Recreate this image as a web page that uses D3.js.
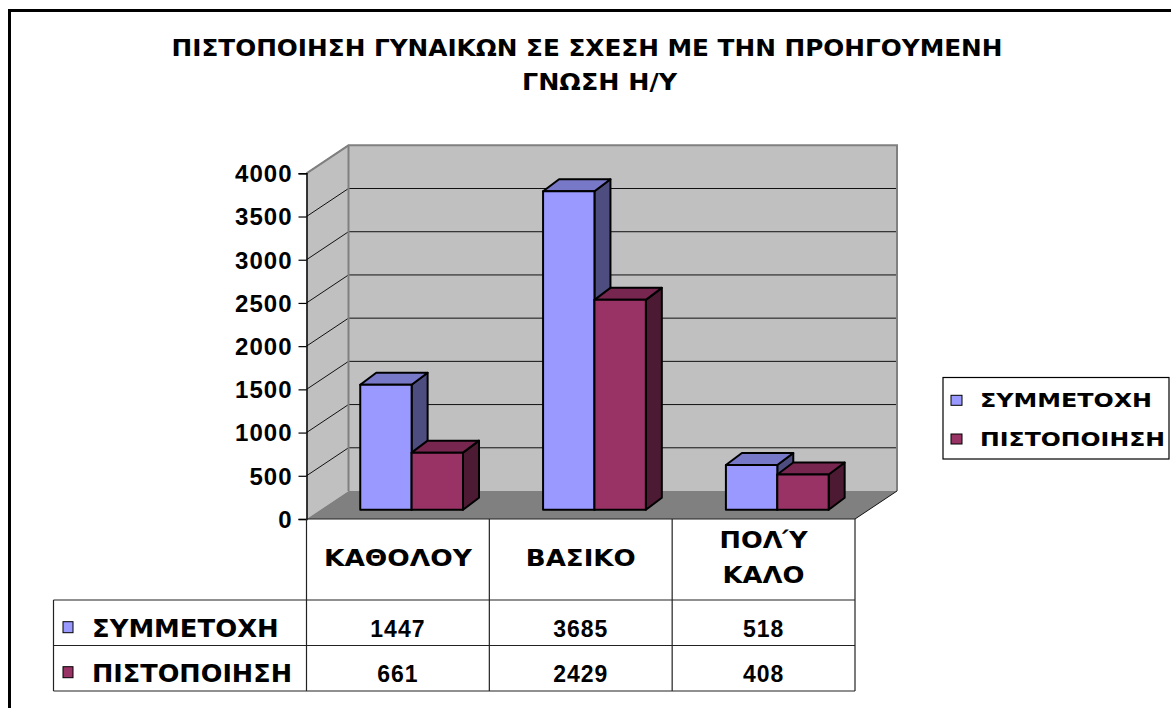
<!DOCTYPE html>
<html><head><meta charset="utf-8">
<script src="https://cdn.jsdelivr.net/npm/d3@7"></script>
<style>
html,body{margin:0;padding:0;background:#fff;}
svg{display:block;font-family:"Liberation Sans",Arial,sans-serif;font-weight:bold;}
.gr{font-family:"DejaVu Sans",sans-serif;font-weight:bold;}
</style></head>
<body>
<svg id="chart" width="1171" height="708"></svg>
<script>
const titleLines = ["ΠΙΣΤΟΠΟΙΗΣΗ ΓΥΝΑΙΚΩΝ ΣΕ ΣΧΕΣΗ ΜΕ ΤΗΝ ΠΡΟΗΓΟΥΜΕΝΗ", "ΓΝΩΣΗ Η/Υ"];
const categories = ["ΚΑΘΟΛΟΥ", "ΒΑΣΙΚΟ", "ΠΟΛΎ ΚΑΛΟ"];
const seriesNames = ["ΣΥΜΜΕΤΟΧΗ", "ΠΙΣΤΟΠΟΙΗΣΗ"];
const participation = [1447, 3685, 518];
const certification = [661, 2429, 408];
const yTicks = [0, 500, 1000, 1500, 2000, 2500, 3000, 3500, 4000];
const seriesColors = ["#9999FF", "#993366"];

const seriesValues = [participation, certification];

const svg = d3.select("#chart");

// outer chart border
svg.append("rect").attr("x", 9.5).attr("y", 10.5).attr("width", 1300).attr("height", 900)
  .attr("fill", "none").attr("stroke", "#000").attr("stroke-width", 3);

// title
const titleX = [587, 599.5], titleY = [56, 90], titleW = [831, 155];
titleLines.forEach((t, i) => {
  svg.append("text").attr("class", "gr").attr("x", titleX[i]).attr("y", titleY[i]).attr("text-anchor", "middle")
    .attr("font-size", 23).attr("textLength", titleW[i]).attr("lengthAdjust", "spacingAndGlyphs").text(t);
});

// scales
const y = d3.scaleLinear().domain([0, 4000]).range([519, 173.3]);
const x0 = d3.scaleBand().domain(categories).range([306.5, 855]);
const bw = x0.bandwidth();
const x1 = d3.scaleBand().domain(seriesNames).range([bw * 0.219, bw * 0.781]);

const DX = 42, DY = 28;          // wall depth
const BX = 13.7, BY = 9.2;       // bar front plane offset
const bDX = 16, bDY = 12;        // bar depth

const left = x0.range()[0], right = x0.range()[1];
const yMax = y(4000), y0 = y(0);

// side wall
svg.append("path")
  .attr("d", `M${left},${yMax}L${left + DX},${yMax - DY}L${left + DX},${y0 - DY}L${left},${y0}Z`)
  .attr("fill", "#c0c0c0");
// back wall
svg.append("rect").attr("x", left + DX).attr("y", yMax - DY).attr("width", right - left).attr("height", y0 - yMax)
  .attr("fill", "#c0c0c0");

// gridlines
yTicks.filter(v => v > 0 && v < 4000).forEach(v => {
  svg.append("line").attr("x1", left + DX).attr("x2", right + DX).attr("y1", y(v) - DY).attr("y2", y(v) - DY)
    .attr("stroke", "#111").attr("stroke-width", 1);
});
yTicks.filter(v => v > 0).forEach(v => {
  svg.append("line").attr("x1", left).attr("x2", left + DX).attr("y1", y(v)).attr("y2", y(v) - DY)
    .attr("stroke", "#111").attr("stroke-width", 1);
});

// wall borders
svg.append("path")
  .attr("d", `M${left},${yMax}L${left + DX},${yMax - DY}L${right + DX},${yMax - DY}L${right + DX},${y0 - DY}`)
  .attr("fill", "none").attr("stroke", "#808080").attr("stroke-width", 2);
svg.append("line").attr("x1", left + DX).attr("x2", left + DX).attr("y1", yMax - DY).attr("y2", y0 - DY)
  .attr("stroke", "#808080").attr("stroke-width", 2);

// floor
svg.append("path")
  .attr("d", `M${left},${y0}L${right},${y0}L${right + DX},${y0 - DY}L${left + DX},${y0 - DY}Z`)
  .attr("fill", "#808080");
svg.append("line").attr("x1", right).attr("x2", right + DX).attr("y1", y0).attr("y2", y0 - DY)
  .attr("stroke", "#111").attr("stroke-width", 1);

// y axis
const yAxis = d3.axisLeft(y).tickValues(yTicks).tickSize(8).tickPadding(6).tickFormat(d3.format("d"));
const gy = svg.append("g").attr("transform", `translate(${left},0)`).call(yAxis);
gy.select(".domain").attr("stroke", "#000").attr("stroke-width", 1.5);
gy.selectAll(".tick line").attr("stroke", "#000").attr("stroke-width", 1.2);
gy.selectAll(".tick text").attr("font-size", 24).attr("font-family", "Liberation Sans, Arial, sans-serif")
  .attr("font-weight", "bold").attr("fill", "#000").attr("letter-spacing", 1).attr("dy", "0.35em");

// bars
categories.forEach((cat, ci) => {
  seriesNames.forEach((s, si) => {
    const v = seriesValues[si][ci];
    const xl = x0(cat) + x1(s) + BX, w = x1.bandwidth();
    const yt = y(v) - BY, yb = y(0) - BY;
    const g = svg.append("g").attr("stroke", "#000").attr("stroke-width", 2).attr("stroke-linejoin", "round");
    g.append("path").attr("d", `M${xl + w},${yt}L${xl + w + bDX},${yt - bDY}L${xl + w + bDX},${yb - bDY}L${xl + w},${yb}Z`)
      .attr("fill", si === 0 ? "#4D4D80" : "#4D1A33");
    g.append("path").attr("d", `M${xl},${yt}L${xl + bDX},${yt - bDY}L${xl + w + bDX},${yt - bDY}L${xl + w},${yt}Z`)
      .attr("fill", si === 0 ? "#7878C8" : "#76264F");
    g.append("rect").attr("x", xl).attr("y", yt).attr("width", w).attr("height", yb - yt)
      .attr("fill", seriesColors[si]);
  });
});

// data table
const tblLeft = 53.5, rowTop = 600, rowH = 45.5;
const lineCol = "#222";
svg.append("line").attr("x1", left).attr("x2", right).attr("y1", y0).attr("y2", y0).attr("stroke", lineCol).attr("stroke-width", 1.2);
[...categories.map(c => x0(c)), right].forEach(xv => {
  svg.append("line").attr("x1", xv).attr("x2", xv).attr("y1", y0).attr("y2", rowTop + 2 * rowH)
    .attr("stroke", lineCol).attr("stroke-width", 1.2);
});
[0, 1, 2].forEach(r => {
  svg.append("line").attr("x1", tblLeft).attr("x2", right).attr("y1", rowTop + r * rowH).attr("y2", rowTop + r * rowH)
    .attr("stroke", lineCol).attr("stroke-width", 1.2);
});
svg.append("line").attr("x1", tblLeft).attr("x2", tblLeft).attr("y1", rowTop).attr("y2", rowTop + 2 * rowH)
  .attr("stroke", lineCol).attr("stroke-width", 1.2);

// header labels
const headerW = {"ΚΑΘΟΛΟΥ": 148, "ΒΑΣΙΚΟ": 110, "ΠΟΛΎ": 88, "ΚΑΛΟ": 82};
categories.forEach(cat => {
  const parts = cat.split(" ");
  const cx = x0(cat) + bw / 2;
  const baselines = parts.length === 1 ? [566] : [548.3, 583.3];
  parts.forEach((p, i) => {
    svg.append("text").attr("class", "gr").attr("x", cx).attr("y", baselines[i]).attr("text-anchor", "middle")
      .attr("font-size", 22.5).attr("textLength", headerW[p]).attr("lengthAdjust", "spacingAndGlyphs").text(p);
  });
});

// rows
const rowLabelW = [186.7, 200], rowBase = [636.7, 681.7];
seriesNames.forEach((s, si) => {
  svg.append("rect").attr("x", 63).attr("y", rowBase[si] - 15).attr("width", 10).attr("height", 11)
    .attr("fill", seriesColors[si]).attr("stroke", "#000").attr("stroke-width", 1);
  svg.append("text").attr("class", "gr").attr("x", 92).attr("y", rowBase[si]).attr("font-size", 24)
    .attr("textLength", rowLabelW[si]).attr("lengthAdjust", "spacingAndGlyphs").text(s);
  categories.forEach((cat, ci) => {
    svg.append("text").attr("x", x0(cat) + bw / 2).attr("y", rowBase[si]).attr("text-anchor", "middle")
      .attr("font-size", 23).attr("letter-spacing", 1).text(seriesValues[si][ci]);
  });
});

// legend
svg.append("rect").attr("x", 943).attr("y", 377.5).attr("width", 226).attr("height", 81.5)
  .attr("fill", "#fff").attr("stroke", "#000").attr("stroke-width", 1.2);
const legBase = [407.3, 446], legW = [172, 185];
seriesNames.forEach((s, si) => {
  svg.append("rect").attr("x", 951).attr("y", legBase[si] - 12).attr("width", 11).attr("height", 10)
    .attr("fill", seriesColors[si]).attr("stroke", "#000").attr("stroke-width", 1);
  svg.append("text").attr("class", "gr").attr("x", 980).attr("y", legBase[si]).attr("font-size", 19.5)
    .attr("textLength", legW[si]).attr("lengthAdjust", "spacingAndGlyphs").text(s);
});
</script>
</body></html>
